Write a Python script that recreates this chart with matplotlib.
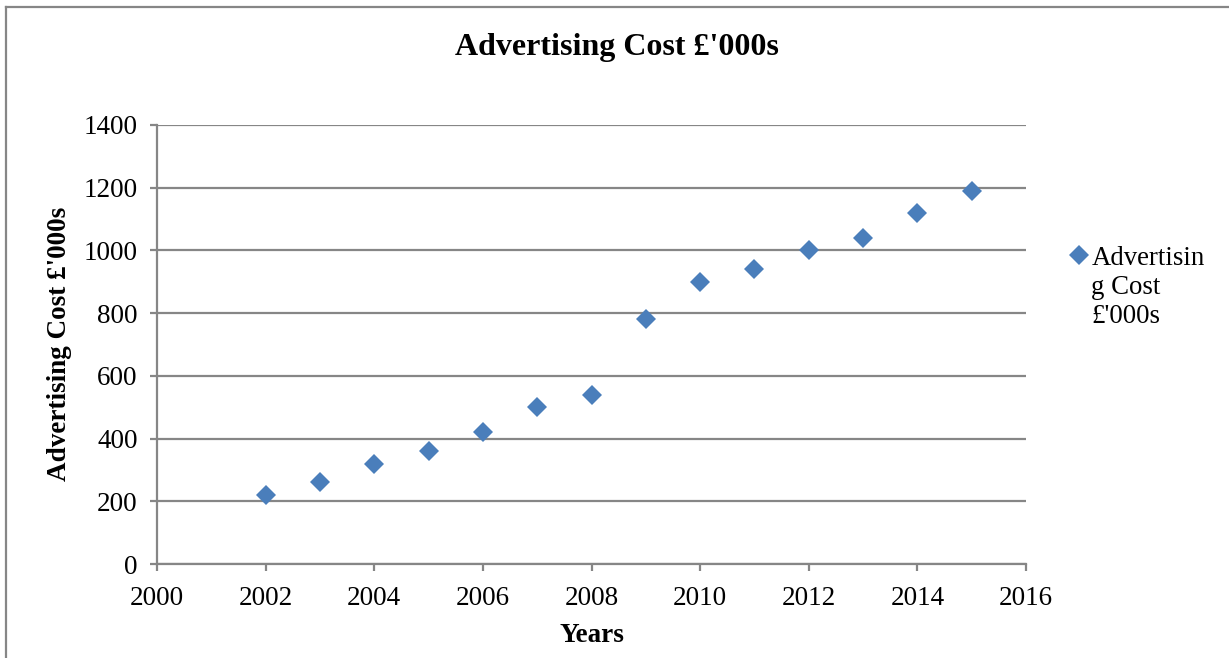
import matplotlib
matplotlib.use("Agg")
import matplotlib.pyplot as plt
from matplotlib.lines import Line2D

years = [2002, 2003, 2004, 2005, 2006, 2007, 2008, 2009, 2010, 2011, 2012, 2013, 2014, 2015]
cost = [220, 260, 320, 360, 420, 500, 540, 780, 900, 940, 1000, 1040, 1120, 1190]
x_ticks = [2000, 2002, 2004, 2006, 2008, 2010, 2012, 2014, 2016]
y_ticks = [0, 200, 400, 600, 800, 1000, 1200, 1400]

plt.rcParams['font.family'] = ['Liberation Serif', 'DejaVu Serif']
gray = '#868686'
blue = '#4A7EBB'

W, H = 1229, 658
fig = plt.figure(figsize=(W / 100, H / 100), dpi=100)
ax = fig.add_axes([157 / W, 1 - 564 / H, (1026 - 157) / W, (564 - 125) / H])

ax.plot(years, cost, linestyle='none', marker='D', markersize=10.2,
        color=blue, markeredgewidth=0, label="Advertisin\ng Cost\n£'000s")

ax.set_xlim(2000, 2016)
ax.set_ylim(0, 1400)
ax.set_xticks(x_ticks)
ax.set_yticks(y_ticks)
ax.yaxis.grid(True, color=gray, linewidth=1.6)
ax.set_axisbelow(True)
for s in ['top', 'right']:
    ax.spines[s].set_visible(False)
for s in ['left', 'bottom']:
    ax.spines[s].set_color(gray)
    ax.spines[s].set_linewidth(1.6)
ax.tick_params(axis='both', direction='out', length=5, width=1.6, color=gray,
               labelsize=19.5)
ax.tick_params(axis='x', pad=11)
ax.tick_params(axis='y', pad=9)

fig.text(617 / W, 1 - 47 / H, "Advertising Cost £'000s", ha='center', va='center',
         fontsize=23, fontweight='bold')
fig.text(592 / W, 1 - 635 / H, "Years", ha='center', va='center',
         fontsize=19.5, fontweight='bold')
fig.text(60 / W, 1 - 344 / H, "Advertising Cost £'000s", ha='center', va='center',
         rotation=90, fontsize=19.5, fontweight='bold')

leg = ax.legend(loc='upper left', bbox_to_anchor=(1069 / W, 1 - 246 / H),
                bbox_transform=fig.transFigure, frameon=False, fontsize=19.3,
                handlelength=0.75, handletextpad=0.08, borderpad=0, borderaxespad=0)
# put the marker beside the first line of the wrapped label
for col in leg._legend_handle_box.get_children():
    for item in col.get_children():
        item.align = 'top'

# outer chart border (top and left edges visible)
fig.add_artist(Line2D([6.5 / W, 6.5 / W], [0, 1 - 7 / H], transform=fig.transFigure,
                      color=gray, linewidth=1.6))
fig.add_artist(Line2D([6.5 / W, 1], [1 - 7 / H, 1 - 7 / H], transform=fig.transFigure,
                      color=gray, linewidth=1.6))

fig.savefig("out.png", dpi=100)
